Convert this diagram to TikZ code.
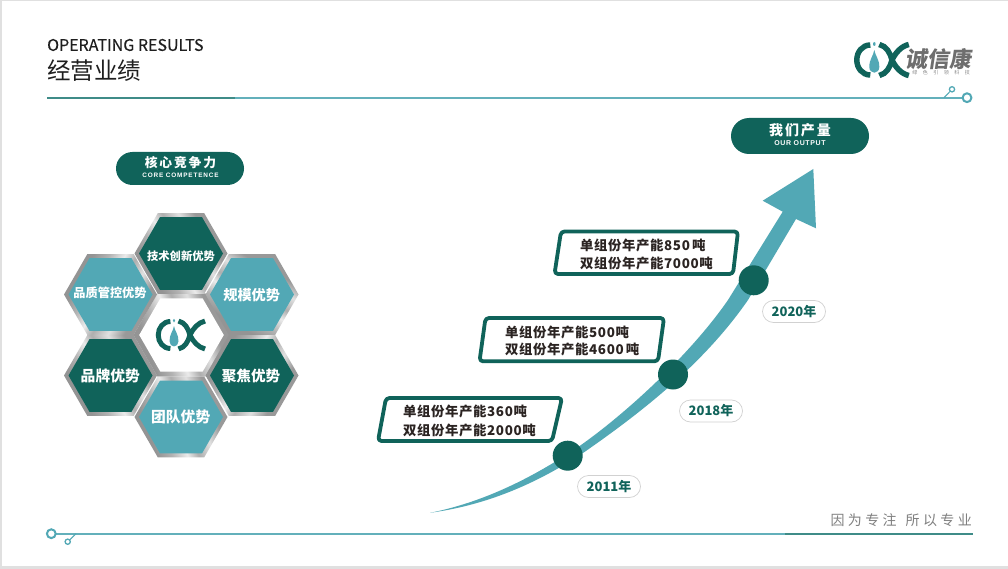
\documentclass[tikz,border=0pt]{standalone}
\usepackage{fontspec}
\setmainfont{Noto Sans CJK SC}
\newfontfamily\medcjk[FakeBold=0.25]{Noto Sans CJK SC}
\newfontfamily\spacedcjk[LetterSpace=4.5]{Noto Sans CJK SC}
\newfontfamily\widecjk[LetterSpace=14]{Noto Sans CJK SC}
\newfontfamily\slogancjk[LetterSpace=24]{Noto Sans CJK SC}
\newfontfamily\widelatin[LetterSpace=9]{Liberation Sans}
\newfontfamily\widerlatin[LetterSpace=13]{Liberation Sans}
\definecolor{deepgreen}{HTML}{10635A}
\definecolor{teal}{HTML}{52A8B5}
\definecolor{rulelight}{HTML}{63B0BB}
\definecolor{ruledark}{HTML}{3F8C88}
\definecolor{inkdark}{HTML}{2B2422}
\definecolor{logogray}{HTML}{6E6E6E}
\pgfdeclarehorizontalshading{metal}{100bp}{
 color(0bp)=(black!42); color(30bp)=(black!42); color(38bp)=(black!30); color(46bp)=(black!8);
 color(52bp)=(black!32); color(60bp)=(black!12); color(68bp)=(black!40); color(100bp)=(black!40)}
\newcommand\hexpts[1]{(-#1,0) -- ({-#1/2},{#1*.866}) -- ({#1/2},{#1*.866}) -- (#1,0) -- ({#1/2},{-#1*.866}) -- ({-#1/2},{-#1*.866}) -- cycle}
\newcommand\hexcell[4]{%
 \begin{scope}[shift={(#1,#2)}]
  \shade[shading=metal,shading angle=#4] \hexpts{46.5};
  \fill[#3] \hexpts{42};
 \end{scope}}
\newcommand\cxlogo[3]{%
 \begin{scope}[shift={(#1,#2)},scale=#3]
  \draw[deepgreen,line width=#3*5.5pt] (-4,-15) .. controls (-12,-15) and (-17.5,-8) .. (-17.5,0) .. controls (-17.5,8) and (-12,15) .. (-4,15);
  \fill[teal] (0,-10) .. controls (1,-4) and (5,-1) .. (5,7) .. controls (5,10.5) and (2.5,12.7) .. (0,12.7) .. controls (-2.5,12.7) and (-5,10.5) .. (-5,7) .. controls (-5,-1) and (-1,-4) .. (0,-10) -- cycle;
  \fill[teal] (0,-16) ellipse (1.3 and 2);
  \draw[deepgreen,line width=#3*5.5pt] (5,-15.5) .. controls (12,-14) and (16,-7) .. (17.7,0) .. controls (16,7) and (12,14) .. (5,15.5);
  \draw[deepgreen,line width=#3*5.5pt] (34.5,-15.5) .. controls (27,-14) and (21,-7) .. (17.7,0) .. controls (21,7) and (27,14) .. (34.5,15.5);
 \end{scope}}
\tikzset{
 x=1pt,y=-1pt,
 pillbox/.style={fill=deepgreen,rounded corners=17pt},
 whitelabel/.style={text=white,font=\bfseries,inner sep=0pt},
 yearpill/.style={draw=black!18,line width=.7pt,fill=white,rounded corners=11pt,minimum width=63pt,minimum height=22pt,inner sep=0pt,text=deepgreen,font=\fontsize{13}{13}\selectfont\bfseries},
 yeardot/.style={circle,fill=deepgreen,minimum size=30pt,inner sep=0pt},
 capbox/.style={draw=deepgreen,line width=3.8pt,rounded corners=3.5pt,fill=white,line join=round},
 capline/.style={anchor=west,inner sep=0pt,text=inkdark,font=\fontsize{13.4}{13.4}\spacedcjk\bfseries},
 ringlarge/.style={draw=teal,line width=2pt,fill=white},
 ringsmall/.style={draw=teal,line width=1.3pt,fill=white},
 hextext/.style={text=white,inner sep=0pt,font=\bfseries},
}
\begin{document}
\begin{tikzpicture}
\useasboundingbox (0,0) rectangle (1008,569);
\fill[black!12] (0,0) rectangle (1008,569);
\fill[white] (2,1) rectangle (1008,566);

% header
\node[anchor=west,inner sep=0pt,text=black!88,font=\fontsize{16}{16}\medcjk] (entitle) at (47,45) {OPERATING RESULTS};
\node[anchor=west,inner sep=0pt,text=black!88,font=\fontsize{23.5}{23.5}\selectfont] (cntitle) at (47,70.5) {经营业绩};
\fill[rulelight] (235,96.8) rectangle (963,98.8);
\fill[ruledark] (47,96.8) rectangle (235,98.8);
\draw[teal,line width=1pt] (944,97.7) -- (950,91.5);
\draw[ringsmall] (952,89.3) circle (2.6);
\draw[ringlarge] (967,97.7) circle (4.4);

% logo
\cxlogo{874.3}{60}{1}
\node[anchor=center,inner sep=0pt,text=logogray,xslant=0.15,transform shape,font=\fontsize{22}{22}\selectfont\bfseries] (brand) at (940,59) {诚信康};
\node[anchor=center,inner sep=0pt,text=logogray!80,font=\fontsize{5}{5}\selectfont] (brandsub) at (941,73) {绿\hspace{5.5pt}色\hspace{5.5pt}引\hspace{5.5pt}领\hspace{5.5pt}科\hspace{5.5pt}技};

% left pill
\fill[pillbox,rounded corners=16.5pt] (116,152) rectangle (244,185);
\node[whitelabel,font=\fontsize{12.8}{12.8}\widecjk\bfseries] (coretitle) at (180.5,163) {核心竞争力};
\node[whitelabel,font=\fontsize{6.4}{6.4}\widerlatin\bfseries] (coresub) at (180.5,175.7) {CORE COMPETENCE};

% hexagons
\begin{scope}[shift={(181.5,335)}]
 \shade[shading=metal,shading angle=20] \hexpts{48};
 \fill[white] \hexpts{42.3};
\end{scope}
\hexcell{181}{253.5}{deepgreen}{30}
\hexcell{252}{294.5}{teal}{60}
\hexcell{110.5}{294.5}{teal}{-30}
\hexcell{110.5}{375.5}{deepgreen}{30}
\hexcell{252}{375.5}{deepgreen}{-30}
\hexcell{181}{417}{teal}{20}
\cxlogo{174}{335}{.9}
\node[hextext,font=\fontsize{11.3}{11.3}\selectfont\bfseries] (hexa) at (181,256) {技术创新优势};
\node[hextext,font=\fontsize{12.2}{12.2}\selectfont\bfseries] (hexb) at (110,293) {品质管控优势};
\node[hextext,font=\fontsize{14.2}{14.2}\selectfont\bfseries] (hexc) at (251.7,295) {规模优势};
\node[hextext,font=\fontsize{14.8}{14.8}\selectfont\bfseries] (hexd) at (110.3,375.7) {品牌优势};
\node[hextext,font=\fontsize{14.6}{14.6}\selectfont\bfseries] (hexe) at (251,375.7) {聚焦优势};
\node[hextext,font=\fontsize{14.8}{14.8}\selectfont\bfseries] (hexf) at (180.7,416.7) {团队优势};

% output pill
\fill[pillbox,rounded corners=18pt] (731,118) rectangle (869,154);
\node[whitelabel,font=\fontsize{14}{14}\widecjk\bfseries] (outtitle) at (800,130.7) {我们产量};
\node[whitelabel,font=\fontsize{7}{7}\widelatin\bfseries] (outsub) at (800,143.5) {OUR OUTPUT};

% growth arrow
\fill[teal] (430,512.8) .. controls (480,503) and (530,480) .. (581,445)
  .. controls (625,414) and (690,355) .. (728,300)
  -- (782.7,211.7) -- (762.7,200.7) -- (813.3,169) -- (816,228.3) -- (796,219) -- (748,300)
  .. controls (705,362) and (645,410) .. (583,453)
  .. controls (530,488) and (480,506) .. (430,512.8) -- cycle;

% caption boxes
\draw[capbox] (386,398) -- (562,398) -- (552,441) -- (378,441) -- cycle;
\node[capline] (capa) at (403,411.7) {单组份年产能360吨};
\node[capline] (capb) at (403,430) {双组份年产能2000吨};
\draw[capbox] (485.5,318) -- (664,318) -- (658,361.3) -- (479.5,361.3) -- cycle;
\node[capline] (capc) at (505,332) {单组份年产能500吨};
\node[capline] (capd) at (505,349.5) {双组份年产能4600\,吨};
\draw[capbox] (561,231.5) -- (738,231.5) -- (733,274) -- (554.5,274) -- cycle;
\node[capline] (cape) at (580,245) {单组份年产能850\,吨};
\node[capline] (capf) at (580,263.3) {双组份年产能7000吨};

% year markers
\node[yeardot] (dota) at (567.7,455.7) {};
\node[yeardot] (dotb) at (673,374.5) {};
\node[yeardot] (dotc) at (753.7,280.3) {};
\node[yearpill] (yeara) at (609,486.5) {2011年};
\node[yearpill] (yearb) at (711,411) {2018年};
\node[yearpill] (yearc) at (794,311.5) {2020年};

% footer
\fill[rulelight] (55,532.8) rectangle (785,534.8);
\fill[ruledark] (785,532.8) rectangle (973,534.8);
\draw[teal,line width=1pt] (76,533.7) -- (69.7,540);
\draw[ringsmall] (67.7,541.7) circle (2.6);
\draw[ringlarge] (51.3,533.7) circle (4.4);
\node[anchor=east,inner sep=0pt,text=black!50,font=\fontsize{14}{14}\slogancjk] (slogan) at (972,520.5) {因为专注\hspace{9pt}所以专业};
\end{tikzpicture}
\end{document}
